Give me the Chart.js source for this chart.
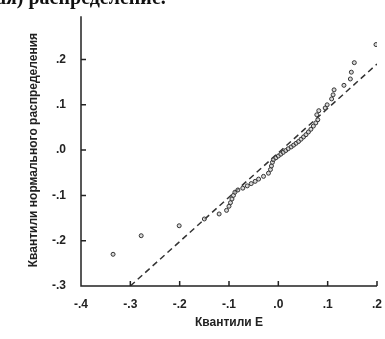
<!DOCTYPE html>
<html>
<head>
<meta charset="utf-8">
<script src="https://cdn.jsdelivr.net/npm/chart.js@4/dist/chart.umd.min.js"></script>
<style>
  html, body { margin: 0; padding: 0; background: #fff; overflow: hidden; }
  #wrap { position: relative; width: 385px; height: 339px; }
  #caption {
    position: absolute; left: -4px; top: -14px; white-space: nowrap;
    font: bold 20px "Liberation Serif", serif; color: #111;
  }
  canvas { position: absolute; left: 0; top: 0; }
</style>
</head>
<body>
<div id="wrap">
  <canvas id="qq" width="385" height="339"></canvas>
  <div id="caption">ая) распределение.</div>
</div>
<script>
// quantiles of E (x) against normal quantiles (y)
const quantilesE = [
  -0.335, -0.278, -0.201, -0.150, -0.120, -0.105, -0.100, -0.097, -0.094, -0.091,
  -0.088, -0.082, -0.072, -0.063, -0.055, -0.047, -0.040, -0.030, -0.020, -0.016,
  -0.014, -0.012, -0.010, -0.005, 0.000, 0.005, 0.010, 0.015, 0.020, 0.026,
  0.031, 0.036, 0.041, 0.046, 0.051, 0.056, 0.061, 0.066, 0.071, 0.076,
  0.080, 0.078, 0.082, 0.095, 0.099, 0.108, 0.111, 0.113, 0.133, 0.146,
  0.148, 0.154, 0.198
];
const normalQuantiles = [
  -0.230, -0.189, -0.167, -0.152, -0.141, -0.133, -0.124, -0.116, -0.108, -0.100,
  -0.093, -0.088, -0.084, -0.079, -0.074, -0.069, -0.064, -0.058, -0.051, -0.043,
  -0.035, -0.027, -0.021, -0.017, -0.013, -0.009, -0.005, -0.001, 0.003, 0.007,
  0.011, 0.015, 0.019, 0.024, 0.029, 0.034, 0.040, 0.046, 0.053, 0.060,
  0.067, 0.078, 0.087, 0.093, 0.100, 0.113, 0.122, 0.133, 0.143, 0.157,
  0.172, 0.193, 0.233
];
const refLineX = [-0.3, 0.2];
const refLineY = [-0.3, 0.19];

const xTitle = "Квантили E";
const yTitle = "Квантили нормального распределения";

const fmt = v => {
  let s = Number(v).toFixed(1);
  if (s === "-0.0") s = "0.0";
  return s.replace("0.", ".");
};

// axis lines plus small tick marks pointing into the plot
const innerTicks = {
  id: "innerTicks",
  afterDatasetsDraw(chart) {
    const ctx = chart.ctx;
    const xs = chart.scales.x, ys = chart.scales.y;
    const left = xs.left, bottom = ys.bottom;
    ctx.save();
    ctx.setLineDash([]);
    ctx.strokeStyle = "#222";
    ctx.lineWidth = 1.5;
    ctx.beginPath();
    ctx.moveTo(left, ys.top + 2);
    ctx.lineTo(left, bottom);
    ctx.lineTo(xs.right, bottom);
    xs.ticks.forEach(t => {
      const px = xs.getPixelForValue(t.value);
      ctx.moveTo(px, bottom);
      ctx.lineTo(px, bottom - 5);
    });
    ys.ticks.forEach(t => {
      const py = ys.getPixelForValue(t.value);
      ctx.moveTo(left, py);
      ctx.lineTo(left + 5, py);
    });
    ctx.stroke();
    ctx.restore();
  }
};

const tickFont = { family: "'Liberation Sans', Arial, sans-serif", size: 12, weight: "bold" };
const titleFont = { family: "'Liberation Sans', Arial, sans-serif", size: 12, weight: "bold" };

new Chart(document.getElementById("qq").getContext("2d"), {
  data: {
    datasets: [
      {
        type: "scatter",
        data: quantilesE.map((x, i) => ({ x: x, y: normalQuantiles[i] })),
        pointRadius: 2,
        borderWidth: 1,
        borderColor: "#333",
        backgroundColor: "rgba(190,190,190,0.6)"
      },
      {
        type: "line",
        data: refLineX.map((x, i) => ({ x: x, y: refLineY[i] })),
        borderColor: "#333",
        borderWidth: 1.5,
        borderDash: [6, 4],
        pointRadius: 0,
        fill: false
      }
    ]
  },
  options: {
    responsive: false,
    animation: false,
    layout: { padding: { top: 10, right: 8, left: 0, bottom: 0 } },
    plugins: { legend: { display: false }, tooltip: { enabled: false } },
    scales: {
      x: {
        type: "linear",
        min: -0.4, max: 0.2,
        grid: { display: false },
        border: { display: false },
        ticks: { stepSize: 0.1, padding: 3, color: "#222", font: tickFont, callback: fmt, maxRotation: 0 },
        title: { display: true, text: xTitle, color: "#222", font: titleFont, padding: { top: 0, bottom: 9 } },
        afterFit(s) { s.height = 53; }
      },
      y: {
        type: "linear",
        min: -0.3, max: 0.3,
        grid: { display: false },
        border: { display: false },
        ticks: { stepSize: 0.1, padding: 7, color: "#222", font: tickFont, callback: fmt },
        afterBuildTicks(s) { s.ticks = s.ticks.filter(t => t.value < 0.25); },
        title: { display: true, text: yTitle, color: "#222", font: titleFont, padding: { top: 26, bottom: 0 } },
        afterFit(s) { s.width = 81; }
      }
    }
  },
  plugins: [innerTicks]
});
</script>
</body>
</html>
